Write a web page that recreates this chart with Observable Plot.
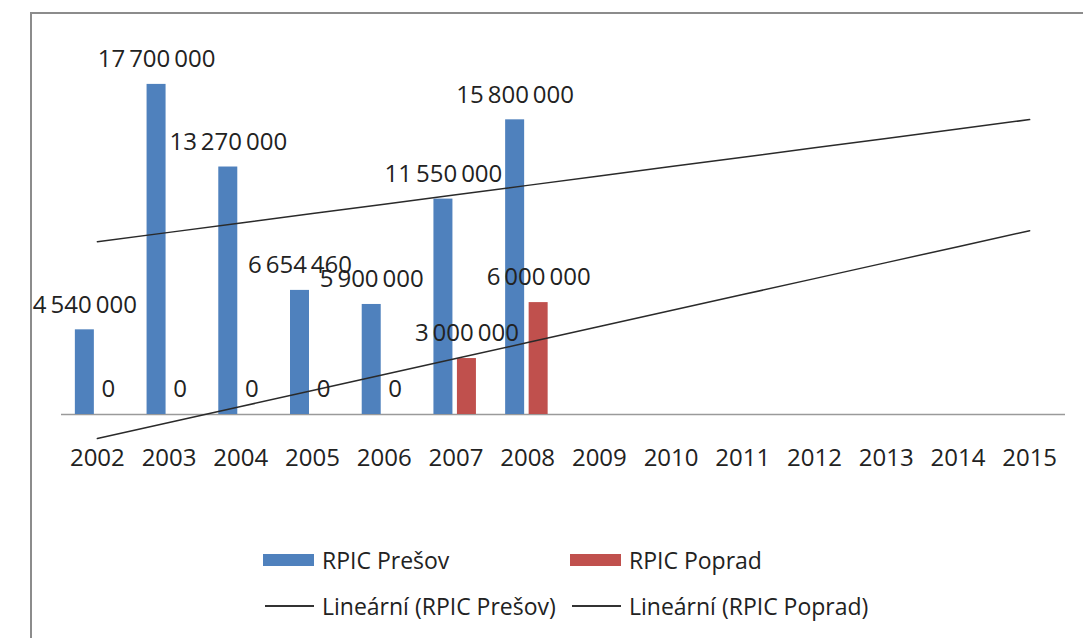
<!DOCTYPE html>
<html>
<head>
<meta charset="utf-8">
<script src="https://cdn.jsdelivr.net/npm/d3@7"></script>
<script src="https://cdn.jsdelivr.net/npm/@observablehq/plot@0.6"></script>
<style>
  html, body { margin: 0; padding: 0; background: #fff; }
  body { position: relative; width: 1083px; height: 638px; overflow: hidden; font-family: "Open Sans", sans-serif; color: #222; }
  #frame { position: absolute; left: 30px; top: 12px; right: -10px; bottom: -10px; border-left: 2px solid #8c8c8c; border-top: 2px solid #8c8c8c; pointer-events: none; }
  #chart { position: absolute; left: 0; top: 0; }
  #legend { position: absolute; left: 263px; top: 544px; display: grid; grid-template-columns: 307px auto; row-gap: 14px; font-size: 23px; }
  .item { display: flex; align-items: center; height: 32px; white-space: nowrap; }
  .sw { width: 51px; height: 12px; margin-right: 8px; }
  .ln { width: 49px; height: 2px; background: #333; margin-right: 8px; margin-left: 2px; }
</style>
</head>
<body>
<div id="chart"></div>
<div id="legend"></div>
<div id="frame"></div>
<script>
// Data
const years = ["2002","2003","2004","2005","2006","2007","2008","2009","2010","2011","2012","2013","2014","2015"];
const dataYears = ["2002","2003","2004","2005","2006","2007","2008"];
const presov = [4540000, 17700000, 13270000, 6654460, 5900000, 11550000, 15800000];
const poprad = [0, 0, 0, 0, 0, 3000000, 6000000];
const seriesNames = ["RPIC Prešov", "RPIC Poprad"];
const trendNames = ["Lineární (RPIC Prešov)", "Lineární (RPIC Poprad)"];
const colors = ["#4F81BD", "#C0504D"];

const fmt = v => d3.format(",")(v).replace(/,/g, "\u2009");

const rowsP = dataYears.map((y, i) => ({year: y, value: presov[i]}));
const rowsR = dataYears.map((y, i) => ({year: y, value: poprad[i]}));

// Least-squares linear trend (the spreadsheet's "Lineární" trendline), extended over all years
function trend(values) {
  const xs = values.map((_, i) => i);
  const mx = d3.mean(xs), my = d3.mean(values);
  const sxy = d3.sum(xs, (x, i) => (x - mx) * (values[i] - my));
  const sxx = d3.sum(xs, x => (x - mx) ** 2);
  const b = sxy / sxx, a = my - b * mx;
  return years.map((y, i) => ({year: y, value: a + b * i}));
}
const trendP = trend(presov);
const trendR = trend(poprad);

const bw = (1083 - 61 - 18) / years.length;
const barW = 19;
const inset = (bw - barW) / 2;

const chart = Plot.plot({
  width: 1083,
  height: 470,
  marginLeft: 61,
  marginRight: 18,
  marginTop: 41,
  marginBottom: 56,
  x: {domain: years, padding: 0, round: false, label: null, tickSize: 0, tickPadding: 34},
  y: {domain: [0, 20000000], axis: null},
  style: {fontFamily: "Open Sans, sans-serif", fontSize: "24px", color: "#222", background: "transparent", overflow: "visible"},
  marks: [
    Plot.ruleY([0], {stroke: "#9a9a9a", strokeWidth: 1.5}),
    Plot.barY(rowsP, {x: "year", y: "value", fill: colors[0], insetLeft: inset, insetRight: inset, dx: -12.5}),
    Plot.barY(rowsR, {x: "year", y: "value", fill: colors[1], insetLeft: inset, insetRight: inset, dx: 11}),
    Plot.line(trendP, {x: "year", y: "value", stroke: "#2a2a2a", strokeWidth: 1.5}),
    Plot.line(trendR, {x: "year", y: "value", stroke: "#2a2a2a", strokeWidth: 1.5}),
    Plot.text(rowsP, {x: "year", y: "value", text: d => fmt(d.value), dx: -12.5, dy: -25, fill: "#222"}),
    Plot.text(rowsR, {x: "year", y: "value", text: d => fmt(d.value), dx: 11, dy: -25, fill: "#222"})
  ]
});
document.getElementById("chart").appendChild(chart);

// Legend
const legend = document.getElementById("legend");
const items = [
  {label: seriesNames[0], kind: "sw", color: colors[0]},
  {label: seriesNames[1], kind: "sw", color: colors[1]},
  {label: trendNames[0], kind: "ln"},
  {label: trendNames[1], kind: "ln"}
];
for (const it of items) {
  const d = document.createElement("div");
  d.className = "item";
  const s = document.createElement("span");
  s.className = it.kind;
  if (it.color) s.style.background = it.color;
  d.appendChild(s);
  const t = document.createElement("span");
  t.textContent = it.label;
  d.appendChild(t);
  legend.appendChild(d);
}
</script>
</body>
</html>
